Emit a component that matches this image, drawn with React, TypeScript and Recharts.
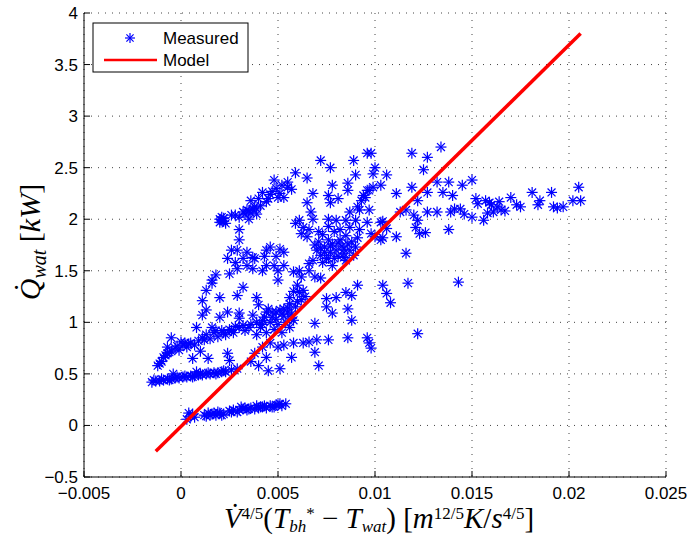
import React from 'react';
import { ScatterChart, Scatter, XAxis, YAxis, CartesianGrid } from 'recharts';

const xTicks = [-0.005, 0, 0.005, 0.01, 0.015, 0.02, 0.025];
const yTicks = [-0.5, 0, 0.5, 1, 1.5, 2, 2.5, 3, 3.5, 4];

// measured points, grouped roughly by the visible clusters
const lowBand = [
  [0.0003, 0.06], [0.0005, 0.09], [0.0004, 0.12], [0.0007, 0.08], [0.0006, 0.11],
  [0.0012, 0.1], [0.0014, 0.12], [0.0016, 0.11], [0.0018, 0.1], [0.002, 0.12], [0.0022, 0.11],
  [0.0013, 0.09], [0.0019, 0.13], [0.0025, 0.14], [0.0027, 0.15], [0.0029, 0.13], [0.003, 0.15],
  [0.0032, 0.16], [0.0034, 0.15], [0.0036, 0.17], [0.0038, 0.16], [0.004, 0.17], [0.0042, 0.18],
  [0.0044, 0.17], [0.0046, 0.19], [0.0048, 0.18], [0.005, 0.2], [0.0052, 0.19], [0.0054, 0.21],
  [0.0031, 0.18], [0.0039, 0.19], [0.0026, 0.13], [0.0033, 0.17], [0.0035, 0.16], [0.0041, 0.18],
  [0.0043, 0.19], [0.0047, 0.18], [0.0049, 0.2], [0.0051, 0.21], [0.0015, 0.1], [0.0017, 0.12],
  [0.0021, 0.1],
];

const halfBand = [
  [-0.0015, 0.42], [-0.0013, 0.43], [-0.0011, 0.43], [-0.0009, 0.44], [-0.0007, 0.45], [-0.0005, 0.45],
  [-0.0003, 0.46], [-0.0001, 0.46], [0.0001, 0.47], [0.0003, 0.47], [0.0005, 0.48], [0.0007, 0.48],
  [0.0009, 0.49], [0.0011, 0.49], [0.0013, 0.5], [0.0015, 0.5], [0.0017, 0.51], [0.0019, 0.51],
  [0.0021, 0.52], [0.0023, 0.52], [0.0026, 0.54], [0.0029, 0.55], [-0.0004, 0.5], [0.0008, 0.52],
  [-0.0014, 0.44], [-0.001, 0.45], [-0.0006, 0.44], [-0.0002, 0.47], [0.0002, 0.48], [0.0006, 0.47],
  [0.001, 0.5], [0.0014, 0.51], [0.0018, 0.5], [0.0022, 0.53],
];

const risingBand = [
  [-0.0012, 0.58], [-0.001, 0.62], [-0.0009, 0.66], [-0.0007, 0.7], [-0.0005, 0.72], [-0.0003, 0.75],
  [-0.0001, 0.73], [0.0001, 0.78], [0.0003, 0.76], [0.0005, 0.8], [0.0007, 0.78], [0.0009, 0.82],
  [0.0011, 0.85], [0.0013, 0.88], [0.0015, 0.84], [0.0017, 0.9], [0.0019, 0.86], [0.0021, 0.92],
  [0.0023, 0.88], [0.0025, 0.93], [0.0027, 0.9], [0.003, 0.95], [0.0033, 0.92], [0.0036, 0.98],
  [0.0039, 1.0], [0.0042, 1.02], [-0.0005, 0.85], [-0.0007, 0.76], [0, 0.81], [0.0006, 0.65],
  [0.0014, 0.65], [0.0024, 0.7], [0.0025, 0.63], [0.0008, 0.95], [0.0016, 0.95], [0.001, 0.72],
  [0.0011, 1.07], [0.002, 1.05], [0.003, 1.04], [0.0024, 1.1], [-0.0011, 0.6], [-0.0008, 0.68],
  [-0.0006, 0.71], [-0.0002, 0.77], [0.0002, 0.8], [0.0004, 0.79], [0.0012, 0.83], [0.0018, 0.92],
  [0.0022, 0.9], [0.0026, 0.92], [0.0028, 0.96], [0.0032, 0.97], [0.0035, 0.95],
];

const belowLine = [
  [0.0036, 0.62], [0.0038, 0.7], [0.004, 0.58], [0.0042, 0.76], [0.0044, 0.66], [0.0046, 0.8],
  [0.0045, 0.53], [0.0051, 0.55], [0.005, 0.76], [0.0053, 0.78], [0.0057, 0.66], [0.0058, 0.8],
  [0.0063, 0.8], [0.0066, 0.81], [0.0069, 0.71], [0.0071, 0.58], [0.007, 0.83], [0.0076, 0.83],
  [0.0086, 0.85], [0.0096, 0.85], [0.0097, 0.8], [0.0098, 0.75], [0.0069, 0.99], [0.0088, 1.02],
  [0.0075, 1.15], [0.0078, 1.09], [0.0086, 1.13], [0.008, 1.24], [0.0075, 1.23], [0.0085, 1.29],
  [0.0088, 1.26], [0.0091, 1.36], [0.0122, 0.89], [0.0108, 1.19], [0.0106, 1.28], [0.0104, 1.36],
  [0.0117, 1.38], [0.0143, 1.39],
];

const denseLow = [
  [0.0039, 0.88], [0.0041, 0.95], [0.0043, 1.05], [0.0044, 0.9], [0.0046, 1.0], [0.0047, 1.1],
  [0.0048, 0.93], [0.0049, 1.03], [0.005, 0.98], [0.0051, 1.12], [0.0052, 0.9], [0.0053, 1.06],
  [0.0054, 1.0], [0.0055, 1.14], [0.0056, 0.95], [0.0057, 1.08], [0.0058, 1.02], [0.0045, 1.13],
  [0.0042, 0.98], [0.0059, 1.15], [0.0047, 1.05], [0.0052, 1.08], [0.0055, 1.1], [0.006, 1.2],
  [0.0062, 1.22], [0.0056, 1.18], [0.0064, 1.25],
];

const middle = [
  [0.0039, 1.24], [0.0056, 1.24], [0.0058, 1.3], [0.0063, 1.31], [0.006, 1.36], [0.0061, 1.29],
  [0.0069, 1.44], [0.0072, 1.43], [0.0066, 1.5], [0.0061, 1.5], [0.005, 1.5], [0.0042, 1.5],
  [0.0037, 1.52], [0.005, 1.41], [0.0084, 1.63], [0.0076, 1.62], [0.0058, 1.49], [0.0062, 1.44],
  [0.0066, 1.57], [0.0044, 1.55], [0.0048, 1.55], [0.0053, 1.55], [0.0034, 1.55], [0.0029, 1.52],
  [0.0025, 1.47], [0.0018, 1.46], [0.0016, 1.41], [0.0016, 1.38], [0.0013, 1.31], [0.0011, 1.21],
  [0.0013, 1.12], [0.002, 1.24], [0.0029, 1.26], [0.0032, 1.34], [0.004, 1.17], [0.003, 1.09],
  [0.0037, 1.07], [0.0044, 1.1], [0.0049, 1.1], [0.0053, 1.13], [0.0057, 1.04],
];

const upperArm = [
  [0.0024, 1.62], [0.0026, 1.7], [0.0029, 1.7], [0.0034, 1.68], [0.003, 1.8], [0.003, 1.9],
  [0.0028, 2.04], [0.0021, 1.99], [0.0022, 2.01], [0.002, 1.97], [0.0023, 1.96], [0.0034, 2.09],
  [0.0036, 2.06], [0.0038, 2.12], [0.0032, 2.07], [0.003, 2.02], [0.0026, 2.04], [0.0035, 2.0],
  [0.0039, 2.1], [0.0036, 2.18], [0.0042, 2.26], [0.0044, 2.17], [0.004, 2.2], [0.005, 2.21],
  [0.0046, 2.24], [0.0051, 2.25], [0.0055, 2.31], [0.0057, 2.29], [0.0048, 2.38], [0.0055, 2.36],
  [0.0059, 2.45], [0.0065, 2.4], [0.0072, 2.57], [0.0077, 2.5], [0.0078, 2.33], [0.0076, 2.23],
  [0.0068, 2.25], [0.0065, 2.16], [0.0067, 2.07], [0.0053, 2.21], [0.0044, 1.7], [0.0046, 1.73],
  [0.0051, 1.71], [0.0053, 1.68], [0.0049, 1.64], [0.0037, 1.63], [0.0028, 1.58], [0.0032, 1.62],
  [0.0038, 1.62], [0.0043, 1.64], [0.0061, 1.99], [0.0059, 1.96], [0.0063, 1.92], [0.0065, 1.83],
  [0.0066, 1.9], [0.0068, 2.0], [0.0062, 1.86], [0.0077, 2.16], [0.0081, 2.2], [0.0021, 2.02],
  [0.0022, 1.98], [0.002, 2.0], [0.0035, 2.08], [0.0037, 2.1], [0.0033, 2.05], [0.0039, 2.05],
  [0.0041, 2.13], [0.0045, 2.2], [0.0047, 2.27], [0.0049, 2.3], [0.0052, 2.33],
];

const denseMid = [
  [0.0068, 1.6], [0.007, 1.7], [0.0071, 1.78], [0.0072, 1.65], [0.0073, 1.85], [0.0074, 1.73],
  [0.0075, 1.62], [0.0076, 1.8], [0.0077, 1.68], [0.0078, 1.76], [0.0079, 1.88], [0.008, 1.7],
  [0.0081, 1.64], [0.0082, 1.8], [0.0083, 1.74], [0.0084, 1.67], [0.0085, 1.84], [0.0086, 1.76],
  [0.0087, 1.7], [0.0088, 1.78], [0.0089, 1.65], [0.009, 1.73], [0.0091, 1.82], [0.0073, 1.58],
  [0.0078, 1.55], [0.0069, 1.75], [0.0071, 1.88], [0.0076, 1.93], [0.0082, 1.9], [0.0085, 1.6],
  [0.0079, 1.62], [0.0074, 1.68], [0.0072, 1.72], [0.0077, 1.74], [0.0081, 1.77], [0.0084, 1.71],
];

const upperMid = [
  [0.0086, 2.35], [0.0086, 2.28], [0.0089, 2.57], [0.0096, 2.64], [0.009, 2.43], [0.0094, 2.23],
  [0.0096, 2.28], [0.0091, 2.12], [0.0087, 2.07], [0.0085, 1.99], [0.008, 1.99], [0.0076, 2.0],
  [0.009, 1.99], [0.0096, 1.97], [0.0087, 1.92], [0.0092, 1.9], [0.01, 1.83], [0.0103, 1.8],
  [0.0104, 1.82], [0.0098, 2.64], [0.01, 2.5], [0.0099, 2.44], [0.0106, 2.43], [0.0103, 2.33],
  [0.0097, 2.28], [0.0095, 2.21], [0.0092, 2.09], [0.0097, 2.09], [0.0099, 2.31], [0.0093, 2.18],
];

const rightArm = [
  [0.0111, 2.25], [0.0119, 2.64], [0.0127, 2.6], [0.0134, 2.7], [0.0125, 2.48], [0.0119, 2.31],
  [0.0113, 2.07], [0.0116, 2.09], [0.012, 2.04], [0.0122, 1.99], [0.0127, 2.07], [0.0132, 2.07],
  [0.0139, 2.07], [0.0144, 2.1], [0.015, 2.02], [0.0127, 2.26], [0.0122, 2.18], [0.0132, 2.36],
  [0.0138, 2.36], [0.0135, 2.26], [0.014, 2.23], [0.0145, 2.33], [0.015, 2.38], [0.0152, 2.2],
  [0.0121, 1.92], [0.0123, 1.86], [0.0126, 1.87], [0.0116, 1.67], [0.0111, 1.83], [0.0138, 1.9],
  [0.0103, 1.97], [0.0106, 1.91], [0.0098, 1.86], [0.0104, 1.98], [0.0153, 2.15], [0.0157, 2.18],
  [0.0159, 2.16], [0.016, 2.14], [0.0164, 2.17], [0.0163, 2.12], [0.017, 2.21], [0.0173, 2.14],
  [0.0175, 2.12], [0.0181, 2.26], [0.0184, 2.14], [0.0185, 2.18], [0.0191, 2.26], [0.0192, 2.12],
  [0.0194, 2.11], [0.0197, 2.12], [0.0202, 2.18], [0.0206, 2.18], [0.0205, 2.31], [0.0156, 1.99],
  [0.0158, 2.06], [0.0161, 2.07], [0.0165, 2.09], [0.0167, 2.08], [0.0146, 2.05], [0.0141, 2.1],
];

const modelLine = [[-0.0013, -0.25], [0.0206, 3.8]];

const toPts = (arr: number[][]) => arr.map(([x, y]) => ({ x, y }));

const measured = toPts([
  ...lowBand, ...halfBand, ...risingBand, ...belowLine, ...denseLow,
  ...middle, ...upperArm, ...denseMid, ...upperMid, ...rightArm,
]);
const model = toPts(modelLine);

const BLUE = '#0000ff';
const FONT = '"Liberation Sans", Arial, sans-serif';
const SERIF = '"Liberation Serif", "DejaVu Serif", serif';

const fmt = (v: number) => (v < 0 ? '\u2212' + String(-v) : String(v));

const Star = ({ cx, cy, r = 5.5 }: any) => {
  const d = r * 0.72;
  return (
    <g stroke={BLUE} strokeWidth={1.2}>
      <line x1={cx - r} y1={cy} x2={cx + r} y2={cy} />
      <line x1={cx} y1={cy - r} x2={cx} y2={cy + r} />
      <line x1={cx - d} y1={cy - d} x2={cx + d} y2={cy + d} />
      <line x1={cx - d} y1={cy + d} x2={cx + d} y2={cy - d} />
    </g>
  );
};

const XTick = (props: any) => {
  const { x, y, payload } = props;
  const axisY = y - 8;
  return (
    <g>
      <line x1={x} y1={axisY} x2={x} y2={axisY - 6} stroke="#000" />
      <text x={x} y={y} dy={14} textAnchor="middle" fontFamily={FONT} fontSize={17} fill="#000">
        {fmt(payload.value)}
      </text>
    </g>
  );
};

const YTick = (props: any) => {
  const { x, y, payload } = props;
  const axisX = x + 6;
  return (
    <g>
      <line x1={axisX} y1={y} x2={axisX + 6} y2={y} stroke="#000" />
      <text x={x} y={y} dy={6} textAnchor="end" fontFamily={FONT} fontSize={17} fill="#000">
        {fmt(payload.value)}
      </text>
    </g>
  );
};

export default function App() {
  return (
    <div style={{ position: 'relative', width: 689, height: 538, background: '#fff' }}>
      <style>{`body{margin:0}`}</style>
      <ScatterChart width={689} height={538} margin={{ top: 13, right: 23, bottom: 31, left: 24 }}>
        <CartesianGrid stroke="#444" strokeDasharray="1 6" />
        <XAxis
          dataKey="x"
          type="number"
          domain={[-0.005, 0.025]}
          ticks={xTicks}
          tickSize={0}
          tickMargin={8}
          tick={<XTick />}
          height={30}
          axisLine={{ stroke: '#000' }}
          allowDataOverflow
        />
        <YAxis
          dataKey="y"
          type="number"
          domain={[-0.5, 4]}
          ticks={yTicks}
          tickSize={0}
          tickMargin={6}
          tick={<YTick />}
          width={60}
          axisLine={{ stroke: '#000' }}
          allowDataOverflow
        />
        <Scatter data={measured} shape={<Star />} isAnimationActive={false} />
        <Scatter
          data={model}
          line={{ stroke: '#ff0000', strokeWidth: 3.5 }}
          shape={() => <g />}
          isAnimationActive={false}
        />
      </ScatterChart>

      <svg
        width={689}
        height={538}
        style={{ position: 'absolute', left: 0, top: 0, pointerEvents: 'none' }}
      >
        <rect x={93} y={23} width={155} height={49} fill="#fff" stroke="#000" />
        <Star cx={130} cy={38} r={5} />
        <text x={163} y={44} fontFamily={FONT} fontSize={17}>Measured</text>
        <line x1={104} y1={60} x2={157} y2={60} stroke="#ff0000" strokeWidth={2.5} />
        <text x={163} y={66} fontFamily={FONT} fontSize={17}>Model</text>

        <text x={379} y={528} textAnchor="middle" fontFamily={SERIF} fontSize={29} fill="#000">
          <tspan fontStyle="italic">V̇</tspan>
          <tspan fontSize={17} dy={-9}>4/5</tspan>
          <tspan dy={9}>(</tspan>
          <tspan fontStyle="italic">T</tspan>
          <tspan fontSize={17} fontStyle="italic" dy={4}>bh</tspan>
          <tspan fontSize={17} dy={-13}>*</tspan>
          <tspan dy={9}> − </tspan>
          <tspan fontStyle="italic">T</tspan>
          <tspan fontSize={17} fontStyle="italic" dy={4}>wat</tspan>
          <tspan dy={-4}>) [</tspan>
          <tspan fontStyle="italic">m</tspan>
          <tspan fontSize={17} dy={-9}>12/5</tspan>
          <tspan fontStyle="italic" dy={9}>K</tspan>
          <tspan>/</tspan>
          <tspan fontStyle="italic">s</tspan>
          <tspan fontSize={17} dy={-9}>4/5</tspan>
          <tspan dy={9}>]</tspan>
        </text>

        <text
          x={40}
          y={242}
          transform="rotate(-90 40 242)"
          textAnchor="middle"
          fontFamily={SERIF}
          fontSize={30}
          fill="#000"
        >
          <tspan fontStyle="italic">Q̇</tspan>
          <tspan fontSize={20} fontStyle="italic" dy={6}>wat</tspan>
          <tspan dy={-6}> [</tspan>
          <tspan fontStyle="italic">kW</tspan>
          <tspan>]</tspan>
        </text>
      </svg>
    </div>
  );
}
